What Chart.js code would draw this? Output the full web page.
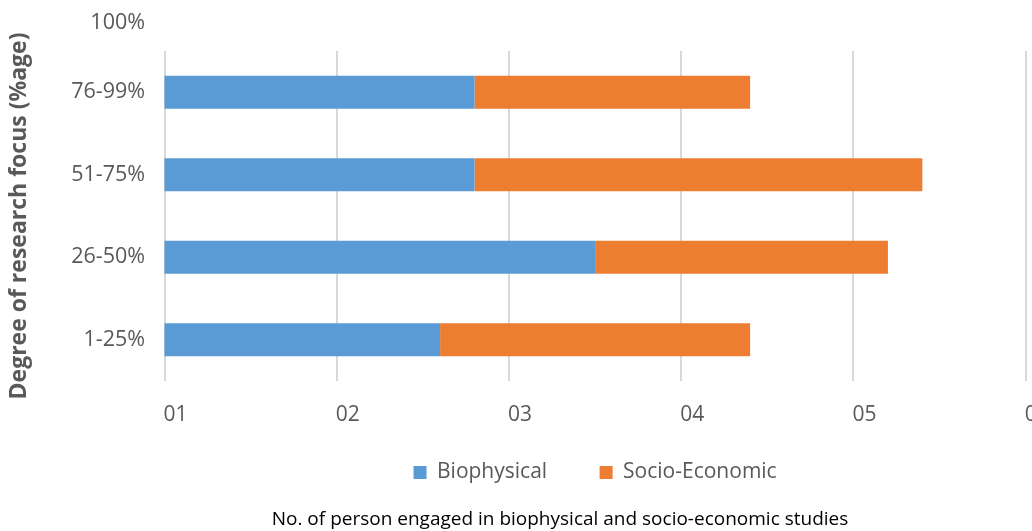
<!DOCTYPE html>
<html>
<head>
<meta charset="utf-8">
<title>Degree of research focus</title>
<script src="https://cdn.jsdelivr.net/npm/chart.js@4/dist/chart.umd.min.js"></script>
<style>
    html, body { margin: 0; padding: 0; background: #fff; overflow: hidden; }
</style>
</head>
<body>
<canvas id="graficoFoco" width="1120" height="531"></canvas>
<script>
// Datos (categorías de abajo hacia arriba)
const categorias = ['1-25%', '26-50%', '51-75%', '76-99%'];
const etiquetaSuperior = '100%';
const biofisico = [26, 35, 28, 28];
const socioEconomico = [18, 17, 26, 16];
const etiquetasX = ['01', '02', '03', '04', '05', '06'];
const nombresSeries = ['Biophysical', 'Socio-Economic'];

const grisTexto = '#595959';
const fuenteEjeY = { size: 21.5 };

Chart.defaults.font.family = '"Open Sans", sans-serif';
Chart.defaults.color = grisTexto;

// Etiqueta "100%" por encima del área del gráfico
const etiquetaArriba = {
    id: 'etiquetaArriba',
    afterDraw(chart) {
        const ejeY = chart.scales.y;
        const ctx = chart.ctx;
        ctx.save();
        ctx.font = fuenteEjeY.size + 'px "Open Sans", sans-serif';
        ctx.fillStyle = grisTexto;
        ctx.textAlign = 'right';
        ctx.textBaseline = 'middle';
        ctx.fillText(etiquetaSuperior, ejeY.right - ejeY.options.ticks.padding, chart.chartArea.top - 28);
        ctx.restore();
    }
};

new Chart(document.getElementById('graficoFoco'), {
    type: 'bar',
    data: {
        labels: categorias,
        datasets: [
            {
                label: nombresSeries[0],
                data: biofisico,
                backgroundColor: '#5B9BD5',
                barPercentage: 0.5,
                clip: 0
            },
            {
                label: nombresSeries[1],
                data: socioEconomico,
                backgroundColor: '#ED7D31',
                barPercentage: 0.5,
                clip: 0
            }
        ]
    },
    options: {
        indexAxis: 'y',
        responsive: false,
        animation: false,
        layout: { padding: { top: 51, left: 0, right: 0, bottom: 0 } },
        scales: {
            x: {
                stacked: true,
                min: 10,
                max: 60,
                border: { display: false },
                grid: { color: '#D9D9D9', lineWidth: 2, drawTicks: false },
                ticks: {
                    stepSize: 10,
                    padding: 21.4,
                    labelOffset: 11,
                    font: { size: 21 },
                    callback: (valor, i) => etiquetasX[i]
                },
                afterFit(eje) { eje.height = 66.5; }
            },
            y: {
                stacked: true,
                reverse: true,
                border: { display: false },
                grid: { display: false, drawTicks: false },
                ticks: { padding: 19.5, font: fuenteEjeY },
                title: {
                    display: true,
                    text: 'Degree of research focus (%age)',
                    color: grisTexto,
                    font: { size: 23, weight: 'bold' },
                    padding: { top: 6, bottom: 4 }
                },
                afterFit(eje) { eje.width = 164.5; }
            },
            margenDerecho: {
                type: 'linear',
                position: 'right',
                display: true,
                border: { display: false },
                grid: { display: false },
                ticks: { display: false },
                afterFit(eje) { eje.width = 94.3; }
            }
        },
        plugins: {
            legend: {
                position: 'bottom',
                fullSize: false,
                labels: {
                    boxWidth: 13,
                    boxHeight: 13,
                    padding: 14.5,
                    color: grisTexto,
                    font: { size: 21 },
                    generateLabels(chart) {
                        const items = Chart.defaults.plugins.legend.labels.generateLabels(chart);
                        // hueco entre las dos entradas
                        items.splice(1, 0, {
                            text: '',
                            fillStyle: 'rgba(0,0,0,0)',
                            strokeStyle: 'rgba(0,0,0,0)',
                            lineWidth: 0,
                            hidden: false
                        });
                        return items;
                    }
                },
                onClick: () => {}
            },
            title: {
                display: true,
                position: 'bottom',
                text: 'No. of person engaged in biophysical and socio-economic studies',
                color: '#000000',
                font: { size: 19, weight: 'normal' },
                padding: { top: 15.2, bottom: 0 }
            },
            tooltip: { enabled: false }
        }
    },
    plugins: [etiquetaArriba]
});
</script>
</body>
</html>
